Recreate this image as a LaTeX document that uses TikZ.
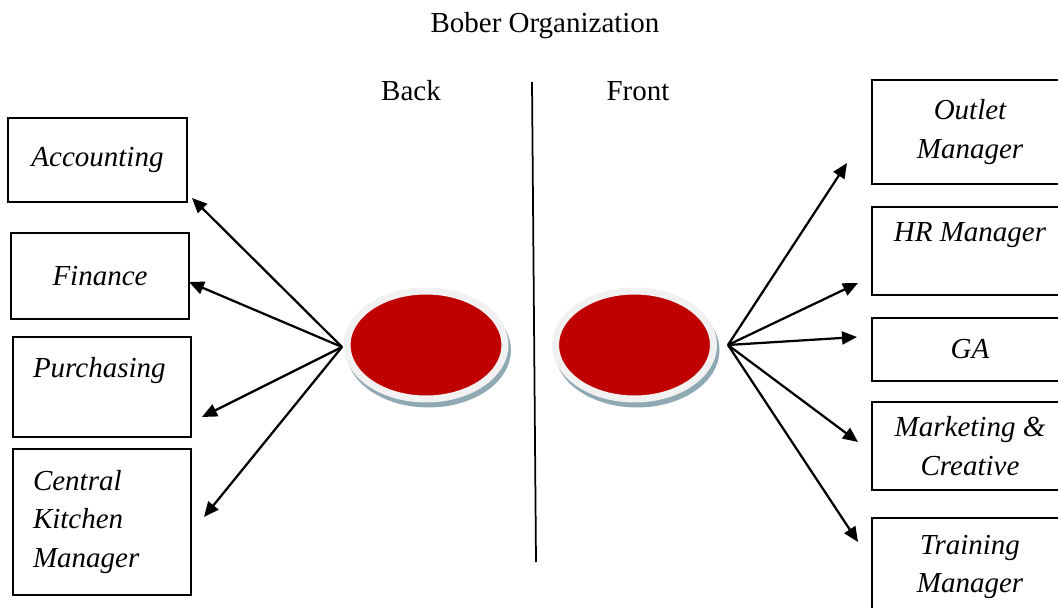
\documentclass[tikz,border=0pt]{standalone}
\usepackage{fontspec}
\setmainfont{Liberation Serif}
\usepackage{xcolor}
\definecolor{discred}{HTML}{C00000}
\definecolor{ringgray}{HTML}{F1F1F1}
\definecolor{shadowblue}{HTML}{8FA9B4}
\usepackage{tikz}
\usetikzlibrary{shapes.geometric,arrows.meta}

\begin{document}
\begin{tikzpicture}[x=0.02cm, y=-0.02cm,
      lbl/.style={font=\fontsize{16.5}{22}\selectfont, inner sep=0pt},
      box/.style={draw, line width=0.03cm, inner sep=0pt, align=center, font=\fontsize{16.5}{22}\selectfont\itshape},
      lbox/.style={box, align=left, text width=2.76cm, inner xsep=0.4cm, minimum width=3.56cm},
      rbox/.style={box, minimum width=3.92cm},
      disc/.style={ellipse, draw=ringgray, line width=0.14cm, fill=discred, inner sep=0pt,
        minimum width=3.16cm, minimum height=2.16cm,
        preaction={draw=shadowblue, fill=shadowblue, line width=0.14cm, transform canvas={shift={(0.05cm,-0.1cm)}}}},
      link/.style={line width=0.045cm, -{Triangle[length=0.3cm, width=0.26cm]}}
    ]
    \path[use as bounding box, fill=white] (0,0) rectangle (1058,608);
    \clip (0,0) rectangle (1058,608);

    % headings
    \node[lbl] (title) at (545,26) {Bober Organization};
    \node[lbl] (back) at (411,91) {Back};
    \node[lbl] (front) at (638,91) {Front};
    \draw[line width=0.035cm] (532,82) -- (536,562);

    % back office
    \node[box, minimum width=3.58cm, minimum height=1.68cm] (acc) at (97.5,160) {Accounting};
    \node[box, minimum width=3.56cm, minimum height=1.72cm] (fin) at (100,276) {Finance};
    \node[lbox, minimum height=2.0cm] (pur) at (102,387) {Purchasing\\ ~};
    \node[lbox, minimum height=2.92cm] (ckm) at (102,522) {Central\\Kitchen\\Manager};

    % front office
    \node[rbox, minimum height=2.08cm] (outlet) at (970,132) {Outlet\\Manager};
    \node[rbox, minimum height=1.76cm] (hr) at (970,251) {HR Manager\\ ~};
    \node[rbox, minimum height=1.26cm] (ga) at (970,349.5) {GA};
    \node[rbox, minimum height=1.76cm] (mkt) at (970,446) {Marketing \&\\Creative};
    \node[rbox, minimum height=1.96cm] (train) at (970,567) {Training\\Manager};

    \node[disc] (lback) at (426,345) {};
    \node[disc] (rfront) at (634.5,345) {};

    % arrow hubs and tips
    \coordinate (lhub) at (342,347);
    \coordinate (rhub) at (728,345);
    \coordinate (accend) at (192,198);
    \coordinate (finend) at (189,282);
    \coordinate (purend) at (202,417);
    \coordinate (ckmend) at (204,517);
    \coordinate (outletend) at (847,163);
    \coordinate (hrend) at (858,283);
    \coordinate (gaend) at (857,337);
    \coordinate (mktend) at (858,442);
    \coordinate (trainend) at (858,542);

    \draw[link] (lhub) -- (accend);
    \draw[link] (lhub) -- (finend);
    \draw[link] (lhub) -- (purend);
    \draw[link] (lhub) -- (ckmend);
    \draw[link] (rhub) -- (outletend);
    \draw[link] (rhub) -- (hrend);
    \draw[link] (rhub) -- (gaend);
    \draw[link] (rhub) -- (mktend);
    \draw[link] (rhub) -- (trainend);
  \end{tikzpicture}
\end{document}
